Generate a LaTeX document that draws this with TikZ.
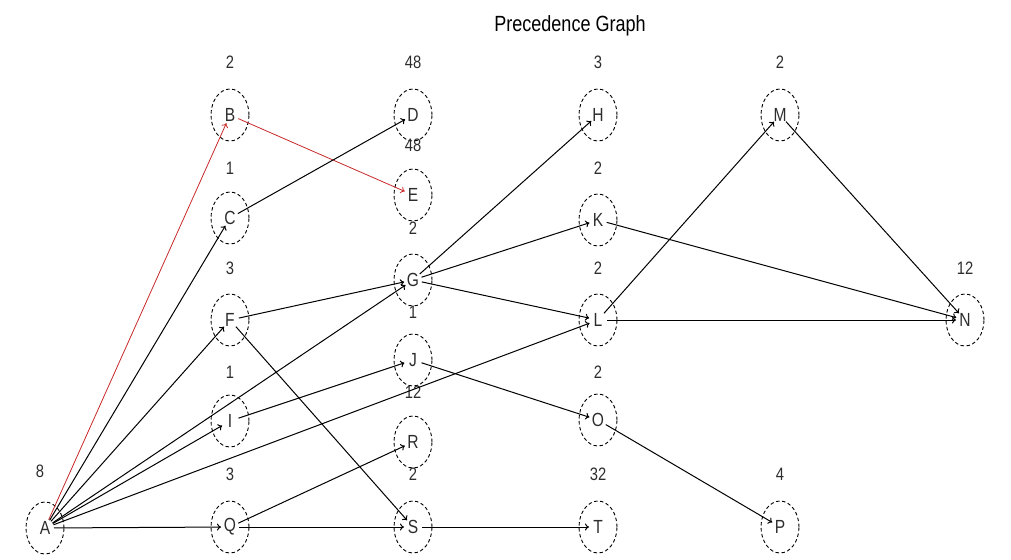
\documentclass[tikz,border=0pt]{standalone}
\usepackage{fontspec}
\setmainfont{Liberation Sans}[FakeStretch=0.82]
\usetikzlibrary{shapes.geometric,arrows.meta}
\definecolor{edgered}{RGB}{200,40,40}
\definecolor{txt}{RGB}{45,45,45}
\begin{document}
\begin{tikzpicture}[x=1pt,y=-1pt,
  vert/.style={draw,ellipse,dash pattern=on 3.5pt off 2.5pt,line width=0.9pt,minimum width=38pt,minimum height=52pt,inner sep=0pt,font=\fontsize{19}{19}\selectfont,text=txt},
  lab/.style={font=\fontsize{18}{18}\selectfont,text=txt,inner sep=0pt},
  edge/.style={line width=1pt,shorten <=9pt,shorten >=9pt,-{To[length=4pt,width=7pt]}},
  rededge/.style={edge,draw=edgered,line width=0.8pt}]
\useasboundingbox (0,0) rectangle (1011,559);
\node[font=\fontsize{22}{22}\selectfont,inner sep=0pt] (title) at (570,26) {Precedence Graph};
% vertices
\node[vert] (A) at (45,528) {A};
\node[vert] (B) at (230,115) {B};
\node[vert] (C) at (230,218) {C};
\node[vert] (F) at (230,320) {F};
\node[vert] (I) at (230,421) {I};
\node[vert] (Q) at (230,527) {Q};
\node[vert] (D) at (413,115) {D};
\node[vert] (E) at (413,195) {E};
\node[vert] (G) at (413,280) {G};
\node[vert] (J) at (413,360) {J};
\node[vert] (R) at (413,442) {R};
\node[vert] (S) at (413,527) {S};
\node[vert] (H) at (598,115) {H};
\node[vert] (K) at (598,220) {K};
\node[vert] (L) at (598,320) {L};
\node[vert] (O) at (598,420) {O};
\node[vert] (T) at (598,527) {T};
\node[vert] (M) at (780,115) {M};
\node[vert] (N) at (965,320) {N};
\node[vert] (P) at (780,527) {P};
% labels
\node[lab] (lA) at (40,471) {8};
\node[lab] (lB) at (230,62) {2};
\node[lab] (lC) at (230,168) {1};
\node[lab] (lF) at (230,268) {3};
\node[lab] (lI) at (230,372) {1};
\node[lab] (lQ) at (230,474) {3};
\node[lab] (lD) at (413,62) {48};
\node[lab] (lE) at (413,145) {48};
\node[lab] (lG) at (413,228) {2};
\node[lab] (lJ) at (413,312) {1};
\node[lab] (lR) at (413,392) {12};
\node[lab] (lS) at (413,474) {2};
\node[lab] (lH) at (598,62) {3};
\node[lab] (lK) at (598,168) {2};
\node[lab] (lL) at (598,268) {2};
\node[lab] (lO) at (598,372) {2};
\node[lab] (lT) at (598,474) {32};
\node[lab] (lM) at (780,62) {2};
\node[lab] (lN) at (965,268) {12};
\node[lab] (lP) at (780,474) {4};
% edges
\draw[rededge] (A.center) -- (B.center);
\draw[rededge] (B.center) -- (E.center);
\draw[edge] (A.center) -- (C.center);
\draw[edge] (A.center) -- (F.center);
\draw[edge] (A.center) -- (G.center);
\draw[edge] (A.center) -- (I.center);
\draw[edge] (A.center) -- (L.center);
\draw[edge] (A.center) -- (Q.center);
\draw[edge] (C.center) -- (D.center);
\draw[edge] (F.center) -- (G.center);
\draw[edge] (F.center) -- (S.center);
\draw[edge] (G.center) -- (H.center);
\draw[edge] (G.center) -- (K.center);
\draw[edge] (G.center) -- (L.center);
\draw[edge] (I.center) -- (J.center);
\draw[edge] (J.center) -- (O.center);
\draw[edge] (K.center) -- (N.center);
\draw[edge] (L.center) -- (M.center);
\draw[edge] (L.center) -- (N.center);
\draw[edge] (M.center) -- (N.center);
\draw[edge] (O.center) -- (P.center);
\draw[edge] (Q.center) -- (R.center);
\draw[edge] (Q.center) -- (S.center);
\draw[edge] (S.center) -- (T.center);
\end{tikzpicture}
\end{document}
